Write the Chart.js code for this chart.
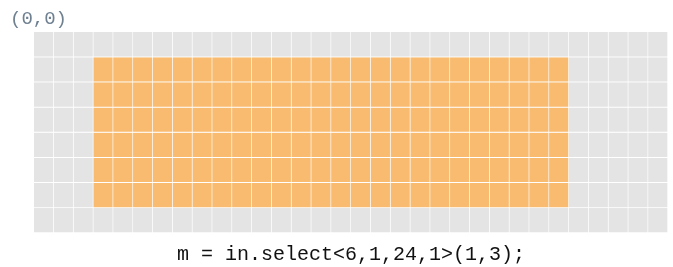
<!DOCTYPE html>
<html>
<head>
<meta charset="utf-8">
<script src="https://cdn.jsdelivr.net/npm/chart.js@4.4.0/dist/chart.umd.min.js"></script>
<style>
    html, body { margin: 0; padding: 0; background: #fff; }
    #wrap { width: 673px; height: 267px; position: relative; }
</style>
</head>
<body>
<div id="wrap"><canvas id="gridChart"></canvas></div>
<script>
// --- Data ---
// grille 8 lignes x 32 colonnes, sélection 6x24 à partir de (1,3)
const rowIndex = [0, 1, 2, 3, 4, 5, 6, 7];
const colIndex = [0, 1, 2, 3, 4, 5, 6, 7, 8, 9, 10, 11, 12, 13, 14, 15,
                  16, 17, 18, 19, 20, 21, 22, 23, 24, 25, 26, 27, 28, 29, 30, 31];
const selectedRows = [1, 2, 3, 4, 5, 6];
const selectedCols = [3, 4, 5, 6, 7, 8, 9, 10, 11, 12, 13, 14, 15, 16, 17, 18,
                      19, 20, 21, 22, 23, 24, 25, 26];
const originLabel = "(0,0)";
const codeLabel = "m = in.select<6,1,24,1>(1,3);";

const grayCell = '#e4e4e4';
const orangeCell = '#f8bb6f';

// Une série par ligne, empilées (chaque cellule = 1 unité)
const datasets = rowIndex.map(r => ({
    label: 'row ' + r,
    data: colIndex.map(() => 1),
    backgroundColor: colIndex.map(c =>
        (selectedRows.includes(r) && selectedCols.includes(c)) ? orangeCell : grayCell),
    borderColor: '#ffffff',
    borderWidth: { top: 0, left: 0, right: 1, bottom: 1 },
    borderSkipped: false,
    categoryPercentage: 1,
    barPercentage: 1
}));

// Petit plugin pour le label d'origine en haut à gauche
const originPlugin = {
    id: 'originLabel',
    afterDraw(chart) {
        const ctx = chart.ctx;
        ctx.save();
        ctx.font = '19px "Liberation Mono", "DejaVu Sans Mono", monospace';
        ctx.fillStyle = '#6f8091';
        ctx.textBaseline = 'alphabetic';
        ctx.fillText(originLabel, 10, 24);
        ctx.restore();
    }
};

new Chart(document.getElementById('gridChart'), {
    type: 'bar',
    data: { labels: colIndex, datasets: datasets },
    options: {
        responsive: true,
        maintainAspectRatio: false,
        animation: false,
        layout: { padding: { left: 34, right: 5, top: 32, bottom: 0 } },
        plugins: {
            legend: { display: false },
            tooltip: { enabled: false },
            title: {
                display: true,
                position: 'bottom',
                text: codeLabel,
                color: '#111',
                font: { family: '"Liberation Mono", "DejaVu Sans Mono", monospace', size: 20, weight: 'normal', lineHeight: 1.2 },
                padding: { top: 10, bottom: 0 }
            }
        },
        scales: {
            x: { display: false, stacked: true, offset: true },
            y: { display: false, stacked: true, reverse: true, min: 0, max: 8 }
        }
    },
    plugins: [originPlugin]
});
</script>
</body>
</html>
